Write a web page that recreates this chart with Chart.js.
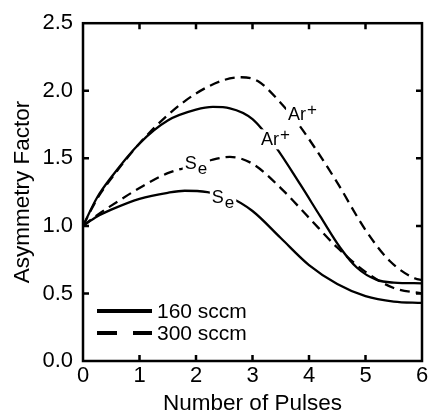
<!DOCTYPE html>
<html>
<head>
<meta charset="utf-8">
<script src="https://cdn.jsdelivr.net/npm/chart.js@4.4.1/dist/chart.umd.min.js"></script>
<style>
  html, body { margin: 0; padding: 0; background: #fff; }
</style>
</head>
<body>
<canvas id="chart" width="431" height="415"></canvas>
<script>
const FONT = '"Liberation Sans", Arial, Helvetica, sans-serif';

// Ar+ at 160 sccm (solid)
const pulsesAr160 = [0, 0.25, 0.5, 1, 1.5, 2, 2.3, 2.6, 3, 3.4, 3.84, 4.2, 4.55, 4.85, 5.2, 5.5, 6];
const ar160 = [1.0, 1.21, 1.36, 1.61, 1.78, 1.86, 1.88, 1.87, 1.79, 1.59, 1.31, 1.07, 0.84, 0.69, 0.60, 0.58, 0.575];

// Ar+ at 300 sccm (dashed)
const pulsesAr300 = [0, 0.25, 0.5, 1, 1.5, 2, 2.5, 2.8, 3.1, 3.5, 3.8, 4.1, 4.5, 5, 5.43, 5.88, 6];
const ar300 = [1.0, 1.2, 1.35, 1.61, 1.82, 1.98, 2.08, 2.10, 2.07, 1.91, 1.76, 1.58, 1.32, 0.97, 0.74, 0.61, 0.60];

// Se at 160 sccm (solid)
const pulsesSe160 = [0, 0.25, 0.5, 1, 1.5, 1.8, 2.2, 2.6, 3, 3.5, 4, 4.5, 5, 5.5, 6];
const se160 = [1.0, 1.07, 1.12, 1.20, 1.245, 1.26, 1.25, 1.21, 1.11, 0.91, 0.71, 0.57, 0.48, 0.44, 0.43];

// Se at 300 sccm (dashed)
const pulsesSe300 = [0, 0.25, 0.5, 1, 1.5, 2, 2.3, 2.6, 3, 3.5, 4, 4.5, 5, 5.5, 6];
const se300 = [1.0, 1.08, 1.15, 1.28, 1.39, 1.45, 1.49, 1.51, 1.46, 1.28, 1.06, 0.84, 0.66, 0.54, 0.50];

const xTicks = [0, 1, 2, 3, 4, 5, 6];
const yTicks = [0, 0.5, 1.0, 1.5, 2.0, 2.5];
const legendLabels = ['160 sccm', '300 sccm'];

// curve labels: text, raised/lowered part, anchor in data units
const curveLabels = [
  { main: 'Ar', extra: '+', x: 3.63, y: 1.787, shift: -5 },
  { main: 'Ar', extra: '+', x: 3.15, y: 1.596, shift: -5 },
  { main: 'S', extra: 'e', x: 1.80, y: 1.419, shift: 5 },
  { main: 'S', extra: 'e', x: 2.28, y: 1.169, shift: 5 }
];

const pts = (xs, ys) => xs.map((x, i) => ({ x: x, y: ys[i] }));
const SOLID = [];
const DASH = [10, 6];

function line(data, dash) {
  return {
    data: data,
    borderColor: '#000',
    borderWidth: 2.3,
    borderDash: dash,
    pointRadius: 0,
    fill: false,
    cubicInterpolationMode: 'monotone'
  };
}

const decorations = {
  id: 'decorations',
  afterDatasetsDraw(chart) {
    const { ctx, chartArea: a, scales: { x, y } } = chart;
    ctx.save();
    // labels on the curves, with white background to break the line
    curveLabels.forEach(l => {
      const px = x.getPixelForValue(l.x);
      const py = y.getPixelForValue(l.y);
      ctx.font = '18px ' + FONT;
      const w1 = ctx.measureText(l.main).width;
      ctx.font = '17px ' + FONT;
      const w2 = ctx.measureText(l.extra).width;
      ctx.fillStyle = '#fff';
      ctx.fillRect(px - 2, py - 16, w1 + w2 + 5, l.shift > 0 ? 24 : 20);
      ctx.fillStyle = '#000';
      ctx.textBaseline = 'alphabetic';
      ctx.textAlign = 'left';
      ctx.font = '18px ' + FONT;
      ctx.fillText(l.main, px, py);
      ctx.font = '17px ' + FONT;
      ctx.fillText(l.extra, px + w1 + 1, py + l.shift);
    });

    // legend
    const lx0 = a.left + 14, lx1 = a.left + 69;
    const rows = [a.bottom - 50, a.bottom - 28];
    ctx.strokeStyle = '#000';
    ctx.lineWidth = 4;
    rows.forEach((ry, i) => {
      ctx.beginPath();
      ctx.setLineDash(i === 0 ? [] : [20, 16]);
      ctx.moveTo(lx0, ry);
      ctx.lineTo(lx1, ry);
      ctx.stroke();
      ctx.setLineDash([]);
      ctx.font = '21px ' + FONT;
      ctx.fillStyle = '#000';
      ctx.textBaseline = 'middle';
      ctx.fillText(legendLabels[i], lx1 + 5, ry + 1);
    });
    ctx.restore();
  },
  afterDraw(chart) {
    const { ctx, chartArea: a, scales: { x, y } } = chart;
    const tl = 6;
    ctx.save();
    ctx.strokeStyle = '#000';
    ctx.lineWidth = 2.5;
    ctx.strokeRect(a.left, a.top, a.right - a.left, a.bottom - a.top);
    ctx.beginPath();
    xTicks.slice(1, -1).forEach(v => {
      const px = x.getPixelForValue(v);
      ctx.moveTo(px, a.bottom); ctx.lineTo(px, a.bottom - tl);
      ctx.moveTo(px, a.top); ctx.lineTo(px, a.top + tl);
    });
    yTicks.slice(1, -1).forEach(v => {
      const py = y.getPixelForValue(v);
      ctx.moveTo(a.left, py); ctx.lineTo(a.left + tl, py);
      ctx.moveTo(a.right, py); ctx.lineTo(a.right - tl, py);
    });
    ctx.stroke();
    ctx.restore();
  }
};

new Chart(document.getElementById('chart'), {
  type: 'line',
  data: {
    datasets: [
      line(pts(pulsesAr160, ar160), SOLID),
      line(pts(pulsesAr300, ar300), DASH),
      line(pts(pulsesSe160, se160), SOLID),
      line(pts(pulsesSe300, se300), DASH)
    ]
  },
  options: {
    responsive: false,
    animation: false,
    events: [],
    layout: { padding: { top: 21, right: 9, left: 0, bottom: 0 } },
    plugins: { legend: { display: false }, tooltip: { enabled: false } },
    scales: {
      x: {
        type: 'linear',
        min: 0,
        max: 6,
        afterBuildTicks: s => { s.ticks = xTicks.map(v => ({ value: v })); },
        afterFit: s => { s.height = 54; },
        ticks: {
          color: '#000',
          font: { family: FONT, size: 22 },
          padding: 2,
          maxRotation: 0,
          callback: v => String(v)
        },
        grid: { display: false, drawTicks: false },
        border: { display: false },
        title: {
          display: true,
          text: 'Number of Pulses',
          color: '#000',
          font: { family: FONT, size: 22.5, lineHeight: 1 },
          padding: 0
        }
      },
      y: {
        min: 0,
        max: 2.5,
        afterBuildTicks: s => { s.ticks = yTicks.map(v => ({ value: v })); },
        afterFit: s => { s.width = 83; },
        ticks: {
          color: '#000',
          font: { family: FONT, size: 22 },
          padding: 10,
          callback: v => Number(v).toFixed(1)
        },
        grid: { display: false, drawTicks: false },
        border: { display: false },
        title: {
          display: true,
          text: 'Asymmetry Factor',
          color: '#000',
          font: { family: FONT, size: 22.5, lineHeight: 1 },
          padding: { top: 12, bottom: 0 }
        }
      }
    }
  },
  plugins: [decorations]
});
</script>
</body>
</html>
